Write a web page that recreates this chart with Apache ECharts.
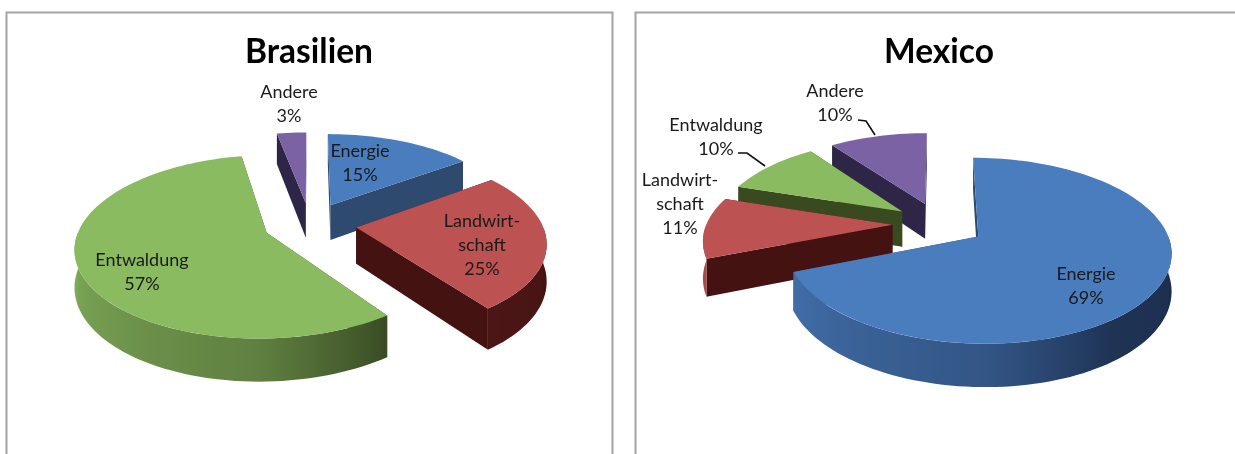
<!DOCTYPE html>
<html>
<head>
<meta charset="utf-8">
<title>Brasilien / Mexico</title>
<style>
    html, body { margin: 0; padding: 0; background: #fff; }
    #main { width: 1235px; height: 454px; }
</style>
<script src="https://cdn.jsdelivr.net/npm/echarts@6/dist/echarts.min.js"></script>
</head>
<body>
<div id="main"></div>
<script>
// data
var categories = ["Energie", "Landwirtschaft", "Entwaldung", "Andere"];
var brasilienValues = [15, 25, 57, 3];
var mexicoValues = [69, 11, 10, 10];

var labelNames = ["Energie", "Landwirt-\nschaft", "Entwaldung", "Andere"];
var topColors = ["#4a7dbe", "#bd5252", "#8bbb61", "#7b62a5"];
var sideColors = ["#1c2e4e", "#451212", "#344420", "#2f2546"];
var edgeColors = ["#2e4a6e", "#451212", "#3a4a20", "#2f2546"];

// pie projection (all pixels), shared by both charts
var RX = 186, RY = 87, DEPTH = 36, EXPLODE = 0.25, PERSPECTIVE = 0.15;
var LABEL_FONT = "Lato, 'Noto Sans', sans-serif";

// label centres for each slice, in category order
var brasilienLabels = [[360, 163], [482, 245], [142, 272], [289, 104]];
var mexicoLabels = [[1086, 286], [680, 204], [716, 137], [835, 103]];
var mexicoLeaders = [
    [],
    [],
    [[738, 153], [747, 153], [765, 166]],
    [[858, 120], [866, 121], [875, 135]]
];

function rad(d) {
    return d * Math.PI / 180;
}

// project a point of the pie plane (unit radius) to the screen
function project(pie, px, pz, down) {
    var s = 1 / (1 + PERSPECTIVE * pz);
    return [pie.cx + RX * px * s, pie.cy + (-RY * pz + (down ? DEPTH : 0)) * s];
}

function hexToRgb(hex) {
    var n = parseInt(hex.slice(1), 16);
    return [n >> 16 & 255, n >> 8 & 255, n & 255];
}

// lighter towards the left, as in the 3D shading of the original
function shade(i, theta) {
    var pts = [[90, 0], [144, 0.06], [180, 0.5], [270, 0.9]];
    var f = theta <= 90 ? 0 : pts[pts.length - 1][1];
    for (var j = 0; j < pts.length - 1; j++) {
        if (theta >= pts[j][0] && theta <= pts[j + 1][0]) {
            var t = (theta - pts[j][0]) / (pts[j + 1][0] - pts[j][0]);
            f = pts[j][1] + t * (pts[j + 1][1] - pts[j][1]);
        }
    }
    var dark = hexToRgb(sideColors[i]), light = hexToRgb(topColors[i]);
    return "rgb(" + [0, 1, 2].map(function (c) {
        return Math.round(dark[c] + (light[c] - dark[c]) * f);
    }).join(",") + ")";
}

function arcPoints(pie, ox, oz, from, to, down) {
    var points = [];
    var steps = Math.max(2, Math.ceil((to - from) / 2));
    for (var i = 0; i <= steps; i++) {
        var a = rad(from + (to - from) * i / steps);
        points.push(project(pie, ox + Math.sin(a), oz + Math.cos(a), down));
    }
    return points;
}

function wallGradient(i, top) {
    var stops = [];
    var xs = top.points.map(function (p) { return p[0]; });
    var xmin = Math.min.apply(null, xs), xmax = Math.max.apply(null, xs);
    top.points.forEach(function (p, k) {
        var theta = top.from + (top.to - top.from) * k / (top.points.length - 1);
        stops.push({ offset: (p[0] - xmin) / (xmax - xmin), color: shade(i, theta) });
    });
    stops.sort(function (a, b) { return a.offset - b.offset; });
    return new echarts.graphic.LinearGradient(0, 0, 1, 0, stops);
}

function makeRenderItem(values, pie, labels, leaders) {
    var total = values.reduce(function (a, b) { return a + b; }, 0);
    // back slices are painted first
    var mids = [], acc = 0;
    values.forEach(function (v) {
        mids.push(acc + v / 2);
        acc += v;
    });
    var order = values.map(function (v, i) { return i; }).sort(function (a, b) {
        return Math.cos(rad(mids[b] / total * 360)) - Math.cos(rad(mids[a] / total * 360));
    });

    return function (params, api) {
        var i = params.dataIndex;
        var value = api.value(0);
        var before = 0;
        for (var k = 0; k < i; k++) {
            before += values[k];
        }
        var from = before / total * 360;
        var to = (before + value) / total * 360;
        var mid = rad((from + to) / 2);
        var ox = EXPLODE * Math.sin(mid), oz = EXPLODE * Math.cos(mid);
        var rank = order.indexOf(i) * 10;
        var children = [];

        // radial walls
        [from, to].forEach(function (edge) {
            var a = rad(edge);
            var ex = ox + Math.sin(a), ez = oz + Math.cos(a);
            children.push({
                type: "polygon",
                z2: rank,
                shape: { points: [
                    project(pie, ox, oz, false), project(pie, ex, ez, false),
                    project(pie, ex, ez, true), project(pie, ox, oz, true)
                ] },
                style: { fill: edgeColors[i] }
            });
        });

        // outer wall, front half only
        var wFrom = Math.max(from, 90), wTo = Math.min(to, 270);
        if (wTo > wFrom) {
            var upper = arcPoints(pie, ox, oz, wFrom, wTo, false);
            var lower = arcPoints(pie, ox, oz, wFrom, wTo, true);
            children.push({
                type: "polygon",
                z2: rank + 1,
                shape: { points: upper.concat(lower.reverse()) },
                style: { fill: wallGradient(i, { points: upper, from: wFrom, to: wTo }) }
            });
        }

        // top face
        children.push({
            type: "polygon",
            z2: rank + 2,
            shape: { points: [project(pie, ox, oz, false)].concat(arcPoints(pie, ox, oz, from, to, false)) },
            style: { fill: topColors[i] }
        });

        children.push({
            type: "text",
            z2: 100,
            style: {
                text: labelNames[i] + "\n" + value + "%",
                x: labels[i][0],
                y: labels[i][1],
                align: "center",
                verticalAlign: "middle",
                fontFamily: LABEL_FONT,
                fontSize: 18,
                lineHeight: 24,
                fill: "#1a1a1a"
            }
        });

        if (leaders && leaders[i].length) {
            children.push({
                type: "polyline",
                z2: 100,
                shape: { points: leaders[i] },
                style: { stroke: "#111", lineWidth: 1.6, fill: null }
            });
        }
        return { type: "group", children: children };
    };
}

function toData(values) {
    return values.map(function (v, i) {
        return { name: categories[i], value: [v] };
    });
}

var chart = echarts.init(document.getElementById("main"), null, { renderer: "canvas" });
chart.setOption({
    animation: false,
    backgroundColor: "#fff",
    title: [
        {
            text: "Brasilien", left: 304, top: 30, textAlign: "center",
            textStyle: { fontFamily: LABEL_FONT, fontWeight: "bold", fontSize: 33.5, color: "#000" }
        },
        {
            text: "Mexico", left: 934, top: 30, textAlign: "center",
            textStyle: { fontFamily: LABEL_FONT, fontWeight: "bold", fontSize: 33.5, color: "#000" }
        }
    ],
    graphic: [
        { type: "rect", z: -1, shape: { x: 6.5, y: 12.5, width: 606, height: 460 },
          style: { fill: "#fff", stroke: "#a3a3a3", lineWidth: 2 } },
        { type: "rect", z: -1, shape: { x: 635.5, y: 12.5, width: 620, height: 460 },
          style: { fill: "#fff", stroke: "#a3a3a3", lineWidth: 2 } }
    ],
    series: [
        {
            type: "custom",
            name: "Brasilien",
            coordinateSystem: "none",
            renderItem: makeRenderItem(brasilienValues, { cx: 310, cy: 224 }, brasilienLabels),
            data: toData(brasilienValues)
        },
        {
            type: "custom",
            name: "Mexico",
            coordinateSystem: "none",
            renderItem: makeRenderItem(mexicoValues, { cx: 939, cy: 224 }, mexicoLabels, mexicoLeaders),
            data: toData(mexicoValues)
        }
    ]
});
</script>
</body>
</html>
